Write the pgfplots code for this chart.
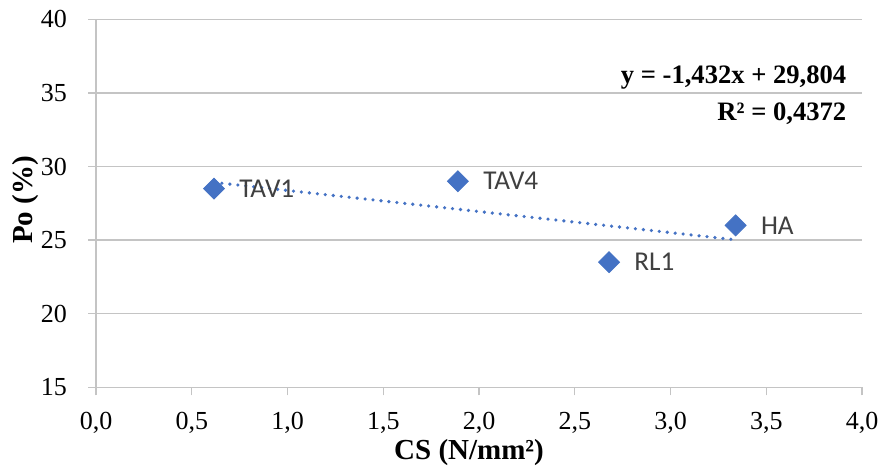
\documentclass[border=0pt]{standalone}
\usepackage{pgfplots}
\pgfplotsset{compat=1.18}
\usepackage{fontspec}
\setmainfont{Liberation Serif}
\newfontfamily\calibri{Carlito}
\definecolor{xblue}{HTML}{4472C4}
\definecolor{gridgray}{HTML}{C4C4C4}
\definecolor{lblgray}{HTML}{404040}
\begin{document}
\begin{tikzpicture}
\path[use as bounding box] (-48pt,-42.35pt) rectangle (392.5pt,193.65pt);
\begin{axis}[
  at={(0pt,0pt)}, anchor=south west,
  scale only axis, width=383pt, height=184pt,
  xmin=0, xmax=4, ymin=15, ymax=40,
  xtick={0,0.5,1,1.5,2,2.5,3,3.5,4},
  ytick={15,20,25,30,35,40},
  axis lines=left,
  axis line style={gridgray, -, line width=0.65pt},
  tick align=outside,
  major tick length=4pt,
  tick style={gridgray, line width=0.65pt},
  ymajorgrids,
  grid style={gridgray, line width=0.65pt},
  /pgf/number format/assume math mode=true,
  xticklabel style={yshift=-5pt, /pgf/number format/.cd, fixed, fixed zerofill, precision=1, use comma},
  yticklabel style={xshift=-7pt},
  ticklabel style={font=\fontsize{13}{15}\selectfont, text=black},
  xlabel={\textbf{CS (N/mm²)}},
  ylabel={\textbf{Po (\%)}},
  label style={font=\fontsize{14.5}{16}\selectfont},
  xlabel style={at={(axis description cs:0.487,0)}, anchor=center, yshift=-32.5pt},
  ylabel style={at={(axis description cs:-0.092,0.509)}, anchor=center},
  clip=false,
]
\addplot[xblue, line width=1.8pt, dash pattern=on 0pt off 4pt, line cap=round]
  coordinates {(0.616,28.922) (3.34,25.021)};
\addplot[only marks, mark=square*, mark size=3.7pt, color=xblue,
  mark options={rotate=45, fill=xblue, draw=xblue},
  nodes near coords, point meta=explicit symbolic,
  nodes near coords align=horizontal,
  every node near coord/.append style={anchor=west, xshift=12.5pt, inner sep=0pt,
    font=\calibri\fontsize{13.6}{15}\selectfont, text=lblgray}]
  table[meta=label] {
x y label
0.616 28.5 TAV1
1.890 29.0 TAV4
2.679 23.5 RL1
3.340 26.0 HA
};
\node[anchor=base east, inner sep=0pt, font=\fontsize{13.3}{15}\selectfont\bfseries] at (axis cs:3.92,35.67) {y = -1,432x + 29,804};
\node[anchor=base east, inner sep=0pt, font=\fontsize{13.3}{15}\selectfont\bfseries] at (axis cs:3.92,33.11) {R² = 0,4372};
\end{axis}
\end{tikzpicture}
\end{document}
